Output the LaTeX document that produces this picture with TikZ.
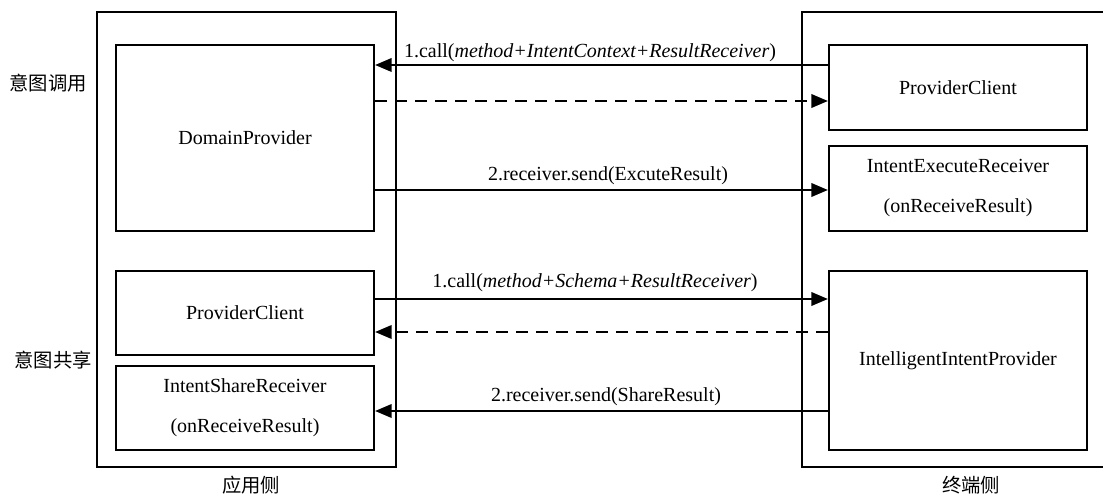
\documentclass[tikz,border=0pt]{standalone}
\usepackage{fontspec}
\setmainfont{Liberation Serif}
\newfontfamily\cjk{Noto Sans CJK SC}
\usetikzlibrary{arrows.meta}

\begin{document}
\begin{tikzpicture}[x=0.75pt,y=-0.75pt,
  frame/.style={draw, line width=1.5pt, inner sep=0pt},
  box/.style={draw, line width=1.5pt, inner sep=0pt, align=center,
    font=\fontsize{15}{30}\selectfont, minimum width=193.5pt},
  msg/.style={line width=1.9pt, -{Triangle[length=12.5pt,width=10pt]}},
  reply/.style={msg, dash pattern=on 9pt off 6pt},
  lbl/.style={font=\fontsize{15}{18}\selectfont, inner sep=0pt},
  side/.style={font=\cjk\fontsize{14.5}{16}\selectfont, inner sep=0pt}]

\clip (0,0) rectangle (1103,495);

% application side
\node[frame, minimum width=224.25pt, minimum height=341.25pt] (app) at (246.5,239.5) {};
\node[box, minimum height=139.5pt] (dp)  at (245,138) {DomainProvider};
\node[box, minimum height=63pt]    (lpc) at (245,313) {ProviderClient};
\node[box, minimum height=63pt]    (isr) at (245,408) {IntentShareReceiver\\(onReceiveResult)};

% terminal side
\node[frame, minimum width=238.5pt, minimum height=341.25pt] (term) at (961,239.5) {};
\node[box, minimum height=63.75pt]  (rpc) at (958,87.5)  {ProviderClient};
\node[box, minimum height=63.75pt]  (ier) at (958,188.5) {IntentExecuteReceiver\\(onReceiveResult)};
\node[box, minimum height=134.25pt] (iip) at (958,360.5) {IntelligentIntentProvider};

% intent invocation
\draw[msg]   (rpc.west |- 0,65)  -- (dp.east |- 0,65);
\draw[reply] (dp.east |- 0,101)  -- (rpc.west |- 0,101);
\draw[msg]   (dp.east |- 0,190)  -- (ier.west |- 0,190);
\node[lbl] (l1) at (590,53)  {1.call(\textit{method+IntentContext+ResultReceiver})};
\node[lbl] (l2) at (608,176) {2.receiver.send(ExcuteResult)};

% intent sharing
\draw[msg]   (lpc.east |- 0,299) -- (iip.west |- 0,299);
\draw[reply] (iip.west |- 0,332) -- (lpc.east |- 0,332);
\draw[msg]   (iip.west |- 0,411) -- (isr.east |- 0,411);
\node[lbl] (l3) at (595,283) {1.call(\textit{method+Schema+ResultReceiver})};
\node[lbl] (l4) at (606,397) {2.receiver.send(ShareResult)};

% side captions
\node[side] (s1) at (48,83)   {意图调用};
\node[side] (s2) at (53,360)  {意图共享};
\node[side] (s3) at (251,485) {应用侧};
\node[side] (s4) at (971,485) {终端侧};
\end{tikzpicture}
\end{document}
